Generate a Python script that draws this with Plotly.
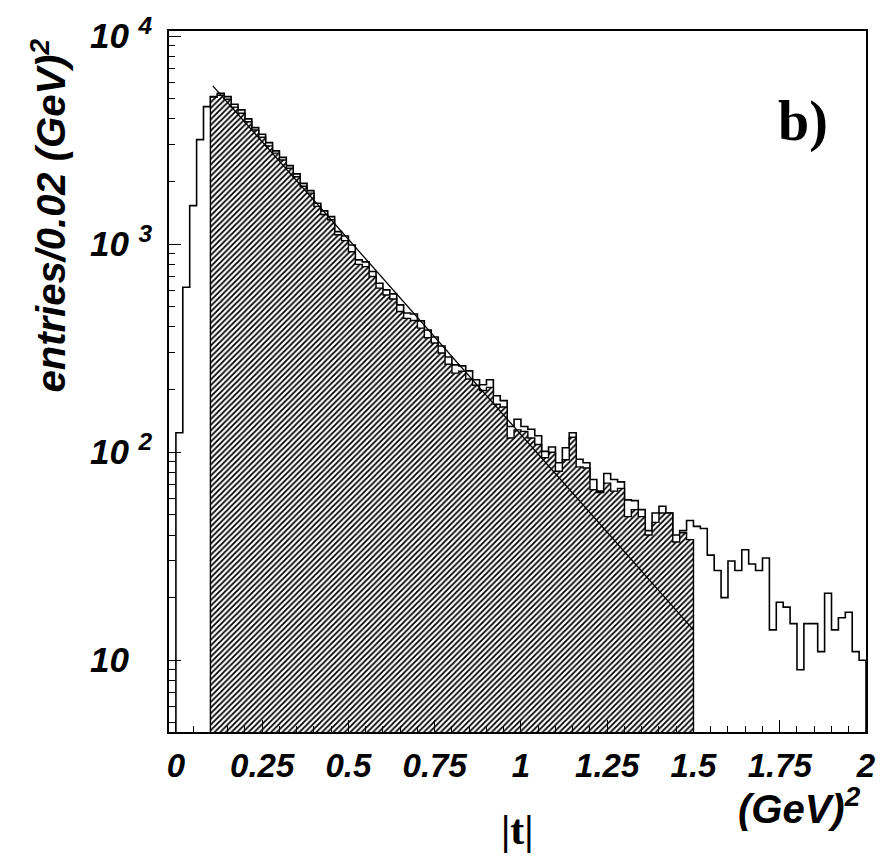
import plotly.graph_objects as go

# ---------------- data ----------------
BIN_WIDTH = 0.02
ALL_START = 0.0
all_counts = [124, 621, 1533, 3184, 4586, 5124, 5321, 5124, 4710, 4423,
              4004, 3636, 3379, 3079, 2809, 2615, 2387, 2178, 1960, 1810,
              1574, 1446, 1357, 1150, 1096, 992, 841, 822, 739, 649,
              603, 577, 511, 467, 462, 428, 387, 358, 324, 287,
              263, 260, 246, 223, 211, 223, 187, 177, 133, 144,
              133, 129, 120, 101, 106, 89, 105, 124, 92.5, 89,
              74, 65, 79, 74, 72, 59, 58.5, 53, 42, 51,
              55, 51, 40, 42, 47, 44, 43, 32, 27, 20,
              30, 27, 34, 29, 27, 31, 14, 19, 18, 15,
              9, 15, 15, 11, 21, 14, 16, 17, 11, 10]

SEL_START = 0.10
sel_counts = [5100, 5200, 4980, 4560, 4260, 3880, 3540, 3270, 2970, 2740,
              2540, 2320, 2110, 1900, 1760, 1520, 1390, 1310, 1110, 1040,
              920, 800, 780, 700, 615, 570, 545, 475, 440, 430,
              395, 355, 335, 300, 265, 240, 245, 225, 210, 198,
              205, 170, 165, 117, 128, 126, 117, 109, 94, 100,
              81, 92, 118, 85, 84, 66, 64, 71, 65, 67,
              49, 53, 49, 40, 46, 51, 51, 37, 41, 38]

fit_t = [0.107, 1.5]
fit_y = [5770, 14]

x_tick_vals = [0, 0.25, 0.5, 0.75, 1, 1.25, 1.5, 1.75, 2]
x_tick_text = ["0", "0.25", "0.5", "0.75", "1", "1.25", "1.5", "1.75", "2"]
y_tick_vals = [10, 100, 1000, 10000]
y_tick_exp = ["", "2", "3", "4"]

# ---------------- helpers ----------------
BASE = 1.0  # below visible range (log axis)


def step_outline(x0, counts):
    xs, ys = [x0], [BASE]
    for i, c in enumerate(counts):
        left = round(x0 + i * BIN_WIDTH, 6)
        right = round(left + BIN_WIDTH, 6)
        xs += [left, right]
        ys += [c, c]
    xs.append(round(x0 + len(counts) * BIN_WIDTH, 6))
    ys.append(BASE)
    return xs, ys


ax, ay = step_outline(ALL_START, all_counts)
sx, sy = step_outline(SEL_START, sel_counts)

fig = go.Figure()

# open (total) histogram
fig.add_trace(go.Scatter(x=ax, y=ay, mode="lines",
                         line=dict(color="black", width=1.6),
                         hoverinfo="skip", showlegend=False))
# hatched histogram
fig.add_trace(go.Scatter(x=sx, y=sy, mode="lines", fill="toself",
                         fillcolor="white",
                         fillpattern=dict(shape="/", size=4, solidity=0.45,
                                          fgcolor="black", bgcolor="white",
                                          fgopacity=1),
                         line=dict(color="black", width=1.4),
                         hoverinfo="skip", showlegend=False))
# exponential fit
fig.add_trace(go.Scatter(x=fit_t, y=fit_y, mode="lines",
                         line=dict(color="black", width=1.3),
                         hoverinfo="skip", showlegend=False))

FONT = "Liberation Sans, Arial, Helvetica, sans-serif"
SERIF = "Liberation Serif, Times New Roman, serif"

x_minor = [round(0.05 * k, 4) for k in range(0, 41) if k % 5 != 0]
y_minor = [m * 10 ** e for e in range(0, 4) for m in range(2, 10) if m * 10 ** e >= 5]

y_tick_text = []
for v, e in zip(y_tick_vals, y_tick_exp):
    if e:
        y_tick_text.append("10\u00a0<sup>" + e + "</sup>")
    else:
        y_tick_text.append("10\u00a0<sup><span style='color:rgba(0,0,0,0)'>0</span></sup>")

fig.update_xaxes(range=[-0.02, 2.0], tickmode="array", tickvals=x_tick_vals,
                 ticktext=x_tick_text, ticks="inside", ticklen=12, tickwidth=1,
                 tickcolor="black", ticklabelstandoff=4,
                 minor=dict(tickmode="array", tickvals=x_minor, ticks="inside",
                            ticklen=6, tickwidth=1, tickcolor="black", showgrid=False),
                 showline=True, linecolor="black", linewidth=1.5, mirror=True,
                 showgrid=False, zeroline=False,
                 tickfont=dict(family=FONT, size=33, color="black",
                               weight="bold", style="italic"))
fig.update_yaxes(type="log", range=[0.655, 4.025], tickmode="array",
                 tickvals=y_tick_vals, ticktext=y_tick_text,
                 ticks="inside", ticklen=12, tickwidth=1, tickcolor="black",
                 ticklabelstandoff=8,
                 minor=dict(tickmode="array", tickvals=y_minor, ticks="inside",
                            ticklen=6, tickwidth=1, tickcolor="black", showgrid=False),
                 showline=True, linecolor="black", linewidth=1.5, mirror=True,
                 showgrid=False, zeroline=False,
                 tickfont=dict(family=FONT, size=35, color="black",
                               weight="bold", style="italic"))

L, R, T, B = 169, 19, 31, 124
W, H = 888, 856
PW, PH = W - L - R, H - T - B


def px(xp):
    return (xp - L) / PW


def py(yp):
    return (H - B - yp) / PH


fig.add_annotation(text="entries/0.02 (GeV)<sup>2</sup>", textangle=-90,
                   xref="paper", yref="paper", x=px(48), y=py(216),
                   xanchor="center", yanchor="middle", showarrow=False,
                   font=dict(family=FONT, size=40, color="black",
                             weight="bold", style="italic"))
fig.add_annotation(text="(GeV)<sup>2</sup>", xref="paper", yref="paper",
                   x=px(866), y=py(806), xanchor="right", yanchor="middle",
                   showarrow=False,
                   font=dict(family=FONT, size=40, color="black",
                             weight="bold", style="italic"))
fig.add_annotation(text="|t|", xref="paper", yref="paper",
                   x=px(518), y=py(830), xanchor="center", yanchor="middle",
                   showarrow=False,
                   font=dict(family=SERIF, size=42, color="black", weight="bold"))
fig.add_annotation(text="b)", xref="paper", yref="paper",
                   x=px(806), y=py(121), xanchor="center", yanchor="middle",
                   showarrow=False,
                   font=dict(family=SERIF, size=56, color="black", weight="bold"))

fig.update_layout(width=W, height=H, margin=dict(l=L, r=R, t=T, b=B),
                  paper_bgcolor="white", plot_bgcolor="white",
                  showlegend=False)

fig.write_html("out.html")
